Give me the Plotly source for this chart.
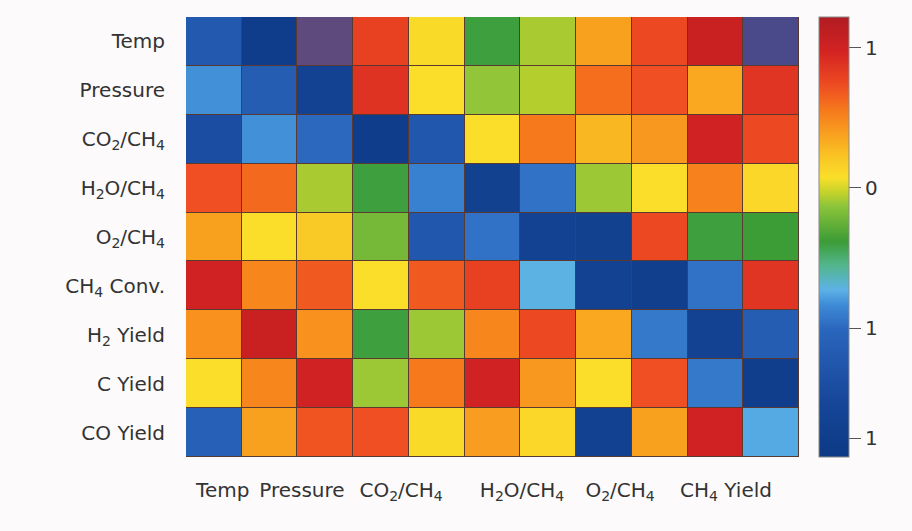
import plotly.graph_objects as go

# ---------------- data ----------------
row_labels = ["Temp", "Pressure", "CO<sub>2</sub>/CH<sub>4</sub>", "H<sub>2</sub>O/CH<sub>4</sub>",
              "O<sub>2</sub>/CH<sub>4</sub>", "CH<sub>4</sub> Conv.", "H<sub>2</sub> Yield",
              "C Yield", "CO Yield"]
x_labels = ["Temp", "Pressure", "CO<sub>2</sub>/CH<sub>4</sub>", "H<sub>2</sub>O/CH<sub>4</sub>",
            "O<sub>2</sub>/CH<sub>4</sub>", "CH<sub>4</sub> Yield"]

row_temp     = [-1.20, -1.80, None, 0.80, 0.10, -0.40, -0.08, 0.38, 0.75, 1.05, None]
row_pressure = [-0.82, -1.15, -1.65, 0.88, 0.08, -0.12, -0.06, 0.60, 0.72, 0.35, 0.87]
row_co2      = [-1.40, -0.82, -1.00, -1.80, -1.25, 0.08, 0.55, 0.28, 0.42, 1.00, 0.75]
row_h2o      = [0.72, 0.62, -0.08, -0.40, -0.88, -1.70, -0.95, -0.10, 0.08, 0.52, 0.12]
row_o2       = [0.38, 0.08, 0.20, -0.20, -1.25, -0.95, -1.65, -1.70, 0.75, -0.40, -0.38]
row_ch4conv  = [1.00, 0.50, 0.68, 0.08, 0.68, 0.80, -0.72, -1.65, -1.75, -0.95, 0.87]
row_h2yield  = [0.45, 1.05, 0.45, -0.40, -0.10, 0.50, 0.75, 0.35, -0.92, -1.65, -1.15]
row_cyield   = [0.08, 0.50, 1.00, -0.10, 0.55, 1.00, 0.42, 0.08, 0.72, -0.92, -1.78]
row_coyield  = [-1.10, 0.38, 0.70, 0.72, 0.10, 0.40, 0.12, -1.68, 0.38, 1.00, -0.75]

# two muted purple cells in the Temp row (col 3 and col 11)
purple_temp = [None, None, 1.0, None, None, None, None, None, None, None, 0.0]

cbar_tickvals = [1.0, 0.0, -1.0, -1.785]
cbar_ticktext = ["1", "0", "1", "1"]

z = [row_temp, row_pressure, row_co2, row_h2o, row_o2,
     row_ch4conv, row_h2yield, row_cyield, row_coyield]
z_purple = [purple_temp] + [[None] * 11 for _ in range(8)]

ncols = len(row_temp)
xs = list(range(ncols))

colorscale = [
    [0.00, "#0d3985"],
    [0.13, "#17479a"],
    [0.29, "#2a66bd"],
    [0.345, "#3d8ad6"],
    [0.38, "#5cb2e6"],
    [0.436, "#52b68c"],
    [0.49, "#3c9c36"],
    [0.57, "#8cc43a"],
    [0.60, "#c2d22a"],
    [0.635, "#fadf2a"],
    [0.68, "#f9c624"],
    [0.72, "#f9aa20"],
    [0.79, "#f6781c"],
    [0.845, "#ee4c22"],
    [0.925, "#d22222"],
    [1.00, "#b01c22"],
]

font_family = "DejaVu Sans"
text_color = "#333333"

fig = go.Figure()
fig.add_trace(go.Heatmap(
    z=z, x=xs, y=row_labels,
    colorscale=colorscale, zmin=-1.92, zmax=1.22,
    xgap=1, ygap=1,
    colorbar=dict(
        x=1.0326, xanchor="left", xpad=0,
        y=0.5, yanchor="middle", len=1.0, lenmode="fraction", ypad=0,
        thickness=30, outlinewidth=1, outlinecolor="#8a8a8a",
        tickmode="array", tickvals=cbar_tickvals, ticktext=cbar_ticktext,
        ticks="outside", ticklen=12, tickwidth=1, tickcolor="#555555",
        tickfont=dict(family=font_family, size=20, color=text_color),
    ),
))
fig.add_trace(go.Heatmap(
    z=z_purple, x=xs, y=row_labels,
    colorscale=[[0, "#4a4a8a"], [1, "#5e4a7c"]], zmin=0, zmax=1,
    xgap=1, ygap=1, showscale=False, hoverongaps=False,
))

fig.update_layout(
    width=912, height=531,
    margin=dict(l=186, r=113, t=17, b=74, autoexpand=False),
    paper_bgcolor="#fcfafb",
    plot_bgcolor="#5a3a30",
    font=dict(family=font_family, size=20, color=text_color),
    xaxis=dict(
        tickmode="array",
        tickvals=[0.16, 1.58, 3.36, 5.53, 7.29, 9.19],
        ticktext=x_labels,
        tickangle=0,
        automargin=False,
        showgrid=False, zeroline=False, showline=False, ticks="",
        range=[-0.5, ncols - 0.5],
        ticklabelstandoff=19,
        tickfont=dict(family=font_family, size=20, color=text_color),
    ),
    yaxis=dict(
        autorange="reversed",
        automargin=False,
        showgrid=False, zeroline=False, showline=False, ticks="",
        ticklabelstandoff=20,
        tickfont=dict(family=font_family, size=20, color=text_color),
    ),
)

fig.write_html("out.html")
